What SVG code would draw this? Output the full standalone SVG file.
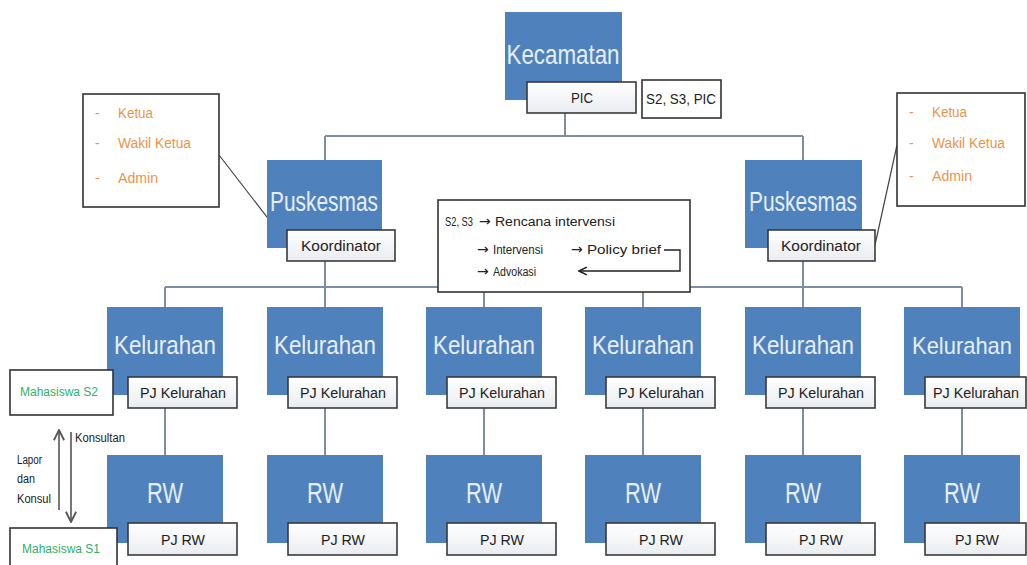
<svg xmlns="http://www.w3.org/2000/svg" width="1027" height="565" viewBox="0 0 1027 565">
<defs>
<linearGradient id="lbl" x1="0" y1="0" x2="0" y2="1">
<stop offset="0" stop-color="#ffffff"/>
<stop offset="1" stop-color="#e9ecf0"/>
</linearGradient>
<marker id="ah" viewBox="0 0 10 10" refX="9" refY="5" markerWidth="7" markerHeight="7" orient="auto-start-reverse">
<path d="M1,1 L9,5 L1,9" fill="none" stroke="#222" stroke-width="1.6"/>
</marker>
<marker id="ag" viewBox="0 0 10 10" refX="9" refY="5" markerWidth="8" markerHeight="8" orient="auto-start-reverse">
<path d="M1,1 L9,5 L1,9" fill="none" stroke="#555" stroke-width="1.4"/>
</marker>
</defs>
<style>
.blue{fill:#4f81bd}
.lbl{fill:url(#lbl);stroke:#3a3a3a;stroke-width:1.6}
.big{font-family:"Liberation Sans",Arial,sans-serif;fill:#e6eefa;text-anchor:middle}
.sm{font-family:"Liberation Sans",Arial,sans-serif;font-size:14px;fill:#222;text-anchor:middle}
.note{fill:#fff;stroke:#333;stroke-width:1.6}
.con{fill:none;stroke:#7d8da5;stroke-width:2}
.thin{fill:none;stroke:#444;stroke-width:1.2}
.or{font-family:"Liberation Sans",Arial,sans-serif;font-size:14px;fill:#e8954a}
.gr{font-family:"Liberation Sans",Arial,sans-serif;font-size:12px;fill:#2eaf6a}
.tx{font-family:"Liberation Sans",Arial,sans-serif;font-size:12px;fill:#222}
.ar{font-family:"DejaVu Sans",sans-serif;font-size:14px;fill:#222}
</style>
<rect width="1027" height="565" fill="#fff"/>

<g id="connectors">
<path class="con" d="M565,113 V136 M325,136 H803 M325,136 V160 M803,136 V160"/>
<path class="con" d="M325,261 V287 M803,261 V287 M165,287 H962"/>
<path class="con" d="M165,287 V307 M325,287 V307 M484,287 V307 M643,287 V307 M803,287 V307 M962,287 V307"/>
<path class="con" d="M165,408 V455 M325,408 V455 M484,408 V455 M643,408 V455 M803,408 V455 M962,408 V455"/>
<path class="thin" d="M219,155 L287,243 M875,245 L897,145"/>
</g>

<g id="kecamatan">
<rect class="blue" x="505" y="12" width="117" height="88"/>
<text class="big" x="563" y="64" font-size="28" textLength="113" lengthAdjust="spacingAndGlyphs">Kecamatan</text>
<rect class="lbl" x="527" y="82" width="109" height="31"/>
<text class="sm" x="582" y="103" textLength="22" lengthAdjust="spacingAndGlyphs">PIC</text>
</g>
<g id="note-pic">
<rect class="note" x="642" y="80" width="79" height="38"/>
<text class="sm" x="681" y="104" font-size="13" textLength="70" lengthAdjust="spacingAndGlyphs">S2, S3, PIC</text>
</g>

<g id="puskesmas-left">
<rect class="blue" x="267" y="160" width="115" height="88"/>
<text class="big" x="324" y="211" font-size="27" textLength="108" lengthAdjust="spacingAndGlyphs">Puskesmas</text>
<rect class="lbl" x="287" y="230" width="108" height="31"/>
<text class="sm" x="341" y="251" textLength="80" lengthAdjust="spacingAndGlyphs">Koordinator</text>
</g>
<g id="puskesmas-right">
<rect class="blue" x="745" y="160" width="117" height="88"/>
<text class="big" x="803" y="211" font-size="27" textLength="108" lengthAdjust="spacingAndGlyphs">Puskesmas</text>
<rect class="lbl" x="768" y="230" width="107" height="31"/>
<text class="sm" x="821" y="251" textLength="80" lengthAdjust="spacingAndGlyphs">Koordinator</text>
</g>

<g id="note-left">
<rect class="note" x="83" y="94" width="136" height="113"/>
<text class="or" x="95" y="118">-</text><text class="or" x="118" y="118" textLength="35" lengthAdjust="spacingAndGlyphs">Ketua</text>
<text class="or" x="95" y="148">-</text><text class="or" x="118" y="148" textLength="73" lengthAdjust="spacingAndGlyphs">Wakil Ketua</text>
<text class="or" x="95" y="183">-</text><text class="or" x="118" y="183" textLength="40" lengthAdjust="spacingAndGlyphs">Admin</text>
</g>
<g id="note-right">
<rect class="note" x="897" y="93" width="128" height="113"/>
<text class="or" x="909" y="117">-</text><text class="or" x="932" y="117" textLength="35" lengthAdjust="spacingAndGlyphs">Ketua</text>
<text class="or" x="909" y="148">-</text><text class="or" x="932" y="148" textLength="73" lengthAdjust="spacingAndGlyphs">Wakil Ketua</text>
<text class="or" x="909" y="181">-</text><text class="or" x="932" y="181" textLength="40" lengthAdjust="spacingAndGlyphs">Admin</text>
</g>

<g id="note-middle">
<rect class="note" x="438" y="200" width="252" height="92"/>
<text class="tx" x="445" y="226" font-size="10" textLength="28" lengthAdjust="spacingAndGlyphs">S2, S3</text>
<text class="ar" x="479" y="226">→</text>
<text class="tx" x="495" y="226" font-size="13" textLength="120" lengthAdjust="spacingAndGlyphs">Rencana intervensi</text>
<text class="ar" x="477" y="254">→</text>
<text class="tx" x="493" y="254" font-size="13" textLength="50" lengthAdjust="spacingAndGlyphs">Intervensi</text>
<text class="ar" x="571" y="254">→</text>
<text class="tx" x="587" y="254" font-size="13" textLength="74" lengthAdjust="spacingAndGlyphs">Policy brief</text>
<text class="ar" x="477" y="276">→</text>
<text class="tx" x="493" y="276" font-size="13" textLength="43" lengthAdjust="spacingAndGlyphs">Advokasi</text>
<path d="M664,250 H680 V271 H579" fill="none" stroke="#222" stroke-width="1.4" marker-end="url(#ah)"/>
</g>

<g id="kelurahan-1"><rect class="blue" x="107" y="307" width="116" height="88"/><text class="big" x="165" y="354" font-size="26" textLength="102" lengthAdjust="spacingAndGlyphs">Kelurahan</text><rect class="lbl" x="128" y="377" width="109" height="31"/><text class="sm" x="183" y="398" textLength="86" lengthAdjust="spacingAndGlyphs">PJ Kelurahan</text></g>
<g id="kelurahan-2"><rect class="blue" x="267" y="307" width="116" height="88"/><text class="big" x="325" y="354" font-size="26" textLength="102" lengthAdjust="spacingAndGlyphs">Kelurahan</text><rect class="lbl" x="288" y="377" width="109" height="31"/><text class="sm" x="343" y="398" textLength="86" lengthAdjust="spacingAndGlyphs">PJ Kelurahan</text></g>
<g id="kelurahan-3"><rect class="blue" x="426" y="307" width="116" height="88"/><text class="big" x="484" y="354" font-size="26" textLength="102" lengthAdjust="spacingAndGlyphs">Kelurahan</text><rect class="lbl" x="447" y="377" width="109" height="31"/><text class="sm" x="502" y="398" textLength="86" lengthAdjust="spacingAndGlyphs">PJ Kelurahan</text></g>
<g id="kelurahan-4"><rect class="blue" x="585" y="307" width="116" height="88"/><text class="big" x="643" y="354" font-size="26" textLength="102" lengthAdjust="spacingAndGlyphs">Kelurahan</text><rect class="lbl" x="606" y="377" width="109" height="31"/><text class="sm" x="661" y="398" textLength="86" lengthAdjust="spacingAndGlyphs">PJ Kelurahan</text></g>
<g id="kelurahan-5"><rect class="blue" x="745" y="307" width="116" height="88"/><text class="big" x="803" y="354" font-size="26" textLength="102" lengthAdjust="spacingAndGlyphs">Kelurahan</text><rect class="lbl" x="766" y="377" width="109" height="31"/><text class="sm" x="821" y="398" textLength="86" lengthAdjust="spacingAndGlyphs">PJ Kelurahan</text></g>
<g id="kelurahan-6"><rect class="blue" x="904" y="307" width="116" height="88"/><text class="big" x="962" y="354" font-size="24" textLength="100" lengthAdjust="spacingAndGlyphs">Kelurahan</text><rect class="lbl" x="925" y="377" width="101" height="31"/><text class="sm" x="976" y="398" font-size="13" textLength="86" lengthAdjust="spacingAndGlyphs">PJ Kelurahan</text></g>

<g id="rw-1"><rect class="blue" x="107" y="455" width="116" height="88"/><text class="big" x="165" y="503" font-size="30" textLength="36" lengthAdjust="spacingAndGlyphs">RW</text><rect class="lbl" x="128" y="523" width="109" height="32"/><text class="sm" x="183" y="545" textLength="44" lengthAdjust="spacingAndGlyphs">PJ RW</text></g>
<g id="rw-2"><rect class="blue" x="267" y="455" width="116" height="88"/><text class="big" x="325" y="503" font-size="30" textLength="36" lengthAdjust="spacingAndGlyphs">RW</text><rect class="lbl" x="288" y="523" width="109" height="32"/><text class="sm" x="343" y="545" textLength="44" lengthAdjust="spacingAndGlyphs">PJ RW</text></g>
<g id="rw-3"><rect class="blue" x="426" y="455" width="116" height="88"/><text class="big" x="484" y="503" font-size="30" textLength="36" lengthAdjust="spacingAndGlyphs">RW</text><rect class="lbl" x="447" y="523" width="109" height="32"/><text class="sm" x="502" y="545" textLength="44" lengthAdjust="spacingAndGlyphs">PJ RW</text></g>
<g id="rw-4"><rect class="blue" x="585" y="455" width="116" height="88"/><text class="big" x="643" y="503" font-size="30" textLength="36" lengthAdjust="spacingAndGlyphs">RW</text><rect class="lbl" x="606" y="523" width="109" height="32"/><text class="sm" x="661" y="545" textLength="44" lengthAdjust="spacingAndGlyphs">PJ RW</text></g>
<g id="rw-5"><rect class="blue" x="745" y="455" width="116" height="88"/><text class="big" x="803" y="503" font-size="30" textLength="36" lengthAdjust="spacingAndGlyphs">RW</text><rect class="lbl" x="766" y="523" width="109" height="32"/><text class="sm" x="821" y="545" textLength="44" lengthAdjust="spacingAndGlyphs">PJ RW</text></g>
<g id="rw-6"><rect class="blue" x="904" y="455" width="116" height="88"/><text class="big" x="962" y="503" font-size="30" textLength="36" lengthAdjust="spacingAndGlyphs">RW</text><rect class="lbl" x="925" y="523" width="101" height="32"/><text class="sm" x="977" y="545" textLength="44" lengthAdjust="spacingAndGlyphs">PJ RW</text></g>

<g id="mahasiswa-s2">
<rect class="note" x="10" y="370" width="103" height="45"/>
<text class="gr" x="20" y="396" textLength="78" lengthAdjust="spacingAndGlyphs">Mahasiswa S2</text>
</g>
<g id="mahasiswa-s1">
<rect class="note" x="10" y="528" width="107" height="40"/>
<text class="gr" x="22" y="553" textLength="78" lengthAdjust="spacingAndGlyphs">Mahasiswa S1</text>
</g>
<g id="relasi">
<path d="M59,510 V430" fill="none" stroke="#555" stroke-width="1.6" marker-end="url(#ag)"/>
<path d="M71,432 V522" fill="none" stroke="#555" stroke-width="1.6" marker-end="url(#ag)"/>
<text class="tx" x="75" y="442" textLength="50" lengthAdjust="spacingAndGlyphs">Konsultan</text>
<text class="tx" x="17" y="464" textLength="25" lengthAdjust="spacingAndGlyphs">Lapor</text>
<text class="tx" x="17" y="483" textLength="18" lengthAdjust="spacingAndGlyphs">dan</text>
<text class="tx" x="17" y="503" textLength="34" lengthAdjust="spacingAndGlyphs">Konsul</text>
</g>
</svg>
